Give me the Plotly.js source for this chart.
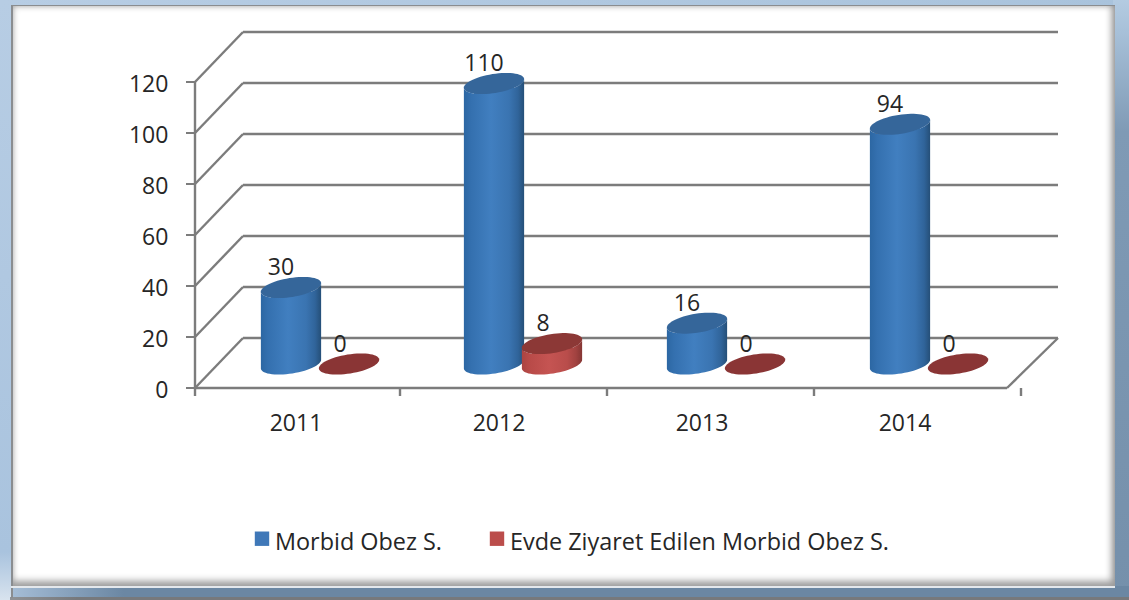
<!DOCTYPE html>
<html><head><meta charset="utf-8">
<script src="https://cdn.plot.ly/plotly-3.0.1.min.js"></script>
<style>
html,body{margin:0;padding:0;width:1129px;height:600px;overflow:hidden;background:#b3cbe2}
.abs{position:absolute}
#left{left:0;top:0;width:12px;height:600px;background:linear-gradient(180deg,#b7cde4 0%,#a9c3de 92%,#d8e3ee 100%)}
#topb{left:0;top:0;width:1129px;height:5px;background:linear-gradient(90deg,#b7cde4 0%,#a9c3dc 100%)}
#right{left:1113px;top:0;width:16px;height:600px;background:linear-gradient(180deg,#b4cbe1 0%,#a8c1d9 5%,#7f9ab5 22%,#7590ab 100%)}
#botb{left:12px;top:586px;width:1117px;height:11px;background:linear-gradient(90deg,#a5bdd6 0%,#6b87a3 10%,#6b87a3 100%)}
#botl{left:10px;top:597px;width:1119px;height:3px;background:linear-gradient(90deg,#8f9296 0%,#77797c 6%)}
#leftl{left:11px;top:585px;width:2px;height:13px;background:#8a8d90}
#panel{left:11px;top:5px;width:1102px;height:580px;background:#fff;
 border-top:1px solid #8a8d90;border-left:2px solid #8a8d90;
 box-shadow:inset 0 -10px 7px -5px #9c9c9c,inset -8px 0 7px -5px #8e8e8e,inset 5px 5px 6px -5px #aaa,0 2px 0 0 #e4e8ec;}
#chart{position:absolute;left:0;top:0;width:1129px;height:600px}
</style></head><body>
<div class="abs" id="left"></div><div class="abs" id="topb"></div><div class="abs" id="right"></div>
<div class="abs" id="botb"></div><div class="abs" id="botl"></div><div class="abs" id="leftl"></div>
<div class="abs" id="panel"></div><div id="chart"></div>
<script>
var years=[2011,2012,2013,2014];
var morbid=[30,110,16,94];
var evde=[0,8,0,0];
var yTicks=[0,20,40,60,80,100,120];
var seriesNames=['Morbid Obez S.','Evde Ziyaret Edilen Morbid Obez S.'];
var FONT='"Open Sans", sans-serif', TXT='#262626', GRID='#7c7c7c', FS=23;

var L=170,R=1075,T=15,B=400, X0PX=296, PXX=203, Y0PX=388, PXY=2.55;
function xd(px){return 2011+(px-X0PX)/PXX;}
function yd(py){return (Y0PX-py)/PXY;}
var depthX=48/PXX, depthY=50/PXY, floorY=24/PXY;
var xs=xd(195), xe=xd(1007);

function line(x0,y0,x1,y1){return {type:'line',layer:'below',xref:'x',yref:'y',x0:x0,y0:y0,x1:x1,y1:y1,line:{color:GRID,width:2.4}};}
var shapes=[];
yTicks.forEach(function(v){
  shapes.push(line(xs,v,xs+depthX,v+depthY));
  shapes.push(line(xs+depthX,v+depthY,xd(1058),v+depthY));
});
shapes.push(line(xs,0,xs,120));
shapes.push(line(xs,0,xe,0));
shapes.push(line(xe,0,xd(1058),depthY));
[195,400,607,814,1021].forEach(function(p){shapes.push(line(xd(p),0,xd(p),yd(396)));});

var A=30.5,Bb=9.5,ROT=-9*Math.PI/180;
function ell(cx,cy,t){
  var ex=A*Math.cos(t),ey=Bb*Math.sin(t);
  return [cx+(ex*Math.cos(ROT)-ey*Math.sin(ROT))/PXX, cy-(ex*Math.sin(ROT)+ey*Math.cos(ROT))/PXY];
}
var angles=[];for(var a=0;a<=60;a++)angles.push(a/60*2*Math.PI);
function topEll(cx,cy){var o={x:[],y:[]};angles.forEach(function(t){var p=ell(cx,cy,t);o.x.push(p[0]);o.y.push(p[1]);});return o;}
function body(cx,cy0,cy1){
  var o={x:[],y:[]},i,p;
  for(i=0;i<=30;i++){p=ell(cx,cy0,i/30*Math.PI);o.x.push(p[0]);o.y.push(p[1]);}
  for(i=0;i<=30;i++){p=ell(cx,cy1,Math.PI-i/30*Math.PI);o.x.push(p[0]);o.y.push(p[1]);}
  return o;
}
var blueDx=(291-X0PX)/PXX, redDx=(349-X0PX)/PXX, narrow=40/PXX;
var data=[];
function series(vals,dx,name,legendW,col,scale,topCol,flatCol,labelDy,labelDx){
  data.push({type:'bar',name:name,legendwidth:legendW,x:years,y:vals,base:vals.map(function(){return floorY;}),
    offset:dx-narrow/2,width:narrow,marker:{color:col,line:{width:0}},hoverinfo:'skip',textposition:'none'});
  vals.forEach(function(v,i){
    var cx=years[i]+dx;
    if(v>0){
      var b=body(cx,floorY,v+floorY);
      data.push({type:'scatter',mode:'none',x:b.x,y:b.y,fill:'toself',showlegend:false,hoverinfo:'skip',
        fillgradient:{type:'horizontal',colorscale:scale}});
    }
    var t=topEll(cx,v+floorY);
    data.push({type:'scatter',mode:'none',x:t.x,y:t.y,fill:'toself',fillcolor:v>0?topCol:flatCol,showlegend:false,hoverinfo:'skip'});
  });
  data.push({type:'scatter',mode:'text',x:years.map(function(y){return y+dx+labelDx/PXX;}),
    y:vals.map(function(v){return v+floorY+labelDy/PXY;}),text:vals.map(String),
    textposition:'middle center',textfont:{family:FONT,size:FS,color:TXT},showlegend:false,hoverinfo:'skip',cliponaxis:false});
}
series(morbid,blueDx,seriesNames[0],190,'#3f78b8',
  [[0,'#2c67a3'],[0.12,'#3470af'],[0.45,'#417fc0'],[0.75,'#3a74b1'],[0.9,'#30649a'],[1,'#254f78']],
  '#35669a','#35669a',18,-10);
series(evde,redDx,seriesNames[1],392,'#bb4d4b',
  [[0,'#ab4442'],[0.12,'#b84a48'],[0.45,'#c55452'],[0.75,'#b94d4b'],[0.9,'#a14240'],[1,'#853634']],
  '#8c3836','#8a3535',18,-9);

var layout={
  width:1129,height:600,autosize:false,showlegend:true,barmode:'overlay',
  paper_bgcolor:'rgba(0,0,0,0)',plot_bgcolor:'rgba(0,0,0,0)',
  margin:{l:L,r:1129-R,t:T,b:600-B,pad:0},
  font:{family:FONT,size:FS,color:TXT},
  xaxis:{type:'linear',range:[xd(L),xd(R)],tickvals:years,ticktext:years.map(String),
    showgrid:false,zeroline:false,showline:false,ticks:'outside',ticklen:2,tickcolor:'rgba(0,0,0,0)',
    tickfont:{family:FONT,size:FS,color:TXT}},
  yaxis:{range:[yd(B),yd(T)],tickvals:yTicks,anchor:'free',position:(195-L)/(R-L),
    showgrid:false,zeroline:false,showline:false,ticks:'outside',ticklen:9,tickwidth:2,tickcolor:GRID,
    ticklabelstandoff:13,ticklabelshift:2,tickfont:{family:FONT,size:FS,color:TXT}},
  shapes:shapes,
  legend:{orientation:'h',x:(235-L)/(R-L),xanchor:'left',y:(B-519)/(B-T),yanchor:'top',
    font:{family:FONT,size:23.4,color:TXT},bgcolor:'rgba(0,0,0,0)',itemclick:false,itemdoubleclick:false}
};
Plotly.newPlot('chart',data,layout,{displayModeBar:false,staticPlot:true}).then(function(gd){
  gd.querySelectorAll('.legend .legendsymbols').forEach(function(g){
    g.setAttribute('transform','translate(3,-2) scale(1.2)');
  });
});
</script>
</body></html>
